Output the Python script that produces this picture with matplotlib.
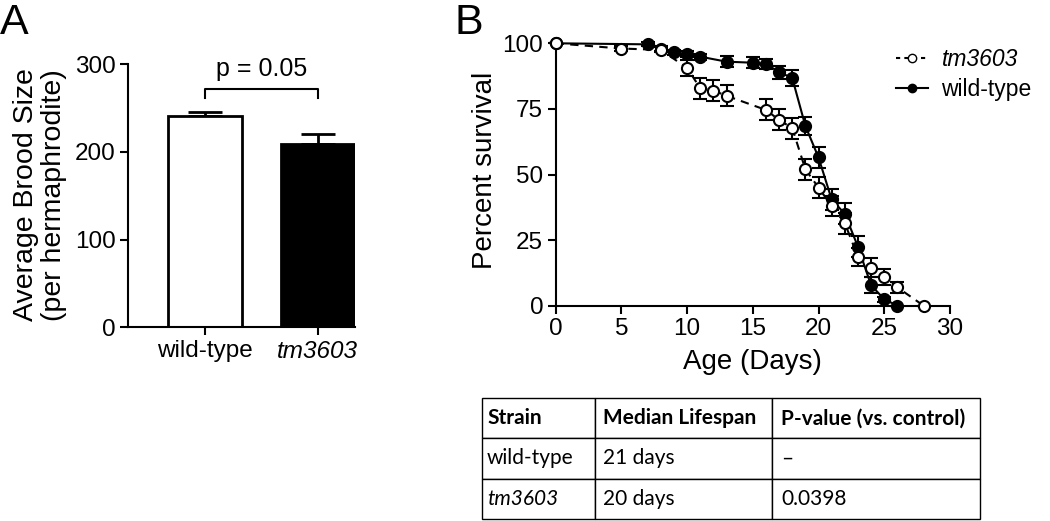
import matplotlib.pyplot as plt
from matplotlib.lines import Line2D

plt.rcParams['font.family'] = ['Liberation Sans', 'DejaVu Sans']

# Panel A: brood size
strains = ['wild-type', 'tm3603']
brood_mean = [241, 209]
brood_sem = [5, 11]

# Panel B: survival curves
tm_days = [0, 5, 8, 10, 11, 12, 13, 16, 17, 18, 19, 20, 21, 22, 23, 24, 25, 26, 28]
tm_surv = [100, 98, 97.5, 90.6, 82.9, 82, 80, 74.6, 70.8, 67.7, 52, 45, 38, 31.5, 18.6, 14.5, 11, 7, 0]
tm_err = [0, 1, 1, 3, 4, 4, 4, 4, 4, 4, 4, 4, 4, 4, 3.5, 3.5, 3, 2, 0]

wt_days = [0, 7, 8, 9, 10, 11, 13, 15, 16, 17, 18, 19, 20, 21, 22, 23, 24, 25, 26]
wt_surv = [100, 99.6, 98, 96.5, 95.8, 94.9, 93, 92.6, 92.2, 89, 86.8, 68.5, 56.5, 40.5, 35, 22.5, 7.8, 2.5, 0]
wt_err = [0, 0.8, 1, 1, 1.2, 1.2, 2, 2, 2, 2.5, 3, 3.5, 4, 4, 4, 4, 3, 1, 0]

# Table
table_cols = ['Strain', 'Median Lifespan', 'P-value (vs. control)']
table_rows = [['wild-type', '21 days', '\u2013'],
              ['tm3603', '20 days', '0.0398']]

fig = plt.figure(figsize=(10.5, 5.21), dpi=100)

# ---- Panel A ----
axA = fig.add_axes([0.1219, 0.3718, 0.2162, 0.5048])
axA.bar([0, 1], brood_mean, width=0.655, color=['white', 'black'],
        edgecolor='black', linewidth=2, zorder=2)
axA.errorbar([0, 1], brood_mean, yerr=[[0, 0], brood_sem], fmt='none',
             ecolor='black', elinewidth=2, capsize=12, capthick=2, zorder=1)
axA.set_xlim(-0.68, 1.33)
axA.set_ylim(0, 300)
axA.set_yticks([0, 100, 200, 300])
axA.set_xticks([0, 1])
axA.set_xticklabels(strains)
axA.get_xticklabels()[1].set_style('italic')
axA.set_ylabel('Average Brood Size\n(per hermaphrodite)', fontsize=20.5, linespacing=1.1)
axA.yaxis.set_label_coords(-0.27, 0.503)
for s in ['top', 'right']:
    axA.spines[s].set_visible(False)
for s in ['left', 'bottom']:
    axA.spines[s].set_linewidth(1.5)
axA.tick_params(width=1.5, length=6, labelsize=17.5, pad=3)
# significance bracket
axA.plot([0, 0, 1, 1], [262, 272, 272, 262], color='black', lw=1.5, clip_on=False)
axA.text(0.5, 281, 'p = 0.05', ha='center', va='bottom', fontsize=18)
fig.text(0.0, 0.995, 'A', fontsize=31, va='top', ha='left')

# ---- Panel B ----
axB = fig.add_axes([0.5292, 0.4132, 0.3755, 0.5037])
axB.errorbar(tm_days, tm_surv, yerr=tm_err, fmt='o', ls=(0, (4, 3)), color='black',
             mfc='white', mec='black', ms=8, mew=1.5, lw=1.5, elinewidth=1.5,
             capsize=5, capthick=1.5, clip_on=False, zorder=3)
axB.errorbar(wt_days, wt_surv, yerr=wt_err, fmt='o', ls='-', color='black',
             mfc='black', mec='black', ms=8, mew=1.5, lw=1.5, elinewidth=1.5,
             capsize=5, capthick=1.5, clip_on=False, zorder=2)
axB.set_xlim(0, 30)
axB.set_ylim(0, 100)
axB.set_xticks([0, 5, 10, 15, 20, 25, 30])
axB.set_yticks([0, 25, 50, 75, 100])
axB.set_xlabel('Age (Days)', fontsize=20)
axB.set_ylabel('Percent survival', fontsize=20)
axB.xaxis.set_label_coords(0.499, -0.165)
axB.yaxis.set_label_coords(-0.146, 0.517)
for s in ['top', 'right']:
    axB.spines[s].set_visible(False)
for s in ['left', 'bottom']:
    axB.spines[s].set_linewidth(1.5)
axB.tick_params(width=1.5, length=6, labelsize=17.5, pad=3)

handles = [Line2D([], [], color='black', ls=(0, (2, 2)), marker='o', mfc='white', mec='black', ms=6, lw=1.5),
           Line2D([], [], color='black', ls='-', marker='o', mfc='black', mec='black', ms=6, lw=1.5)]
leg = fig.legend(handles, ['tm3603', 'wild-type'], loc='upper left',
                 bbox_to_anchor=(0.853, 0.908), frameon=False, fontsize=16.5,
                 handlelength=1.4, handletextpad=0.6, labelspacing=0.3, borderpad=0,
                 borderaxespad=0)
leg.get_texts()[0].set_style('italic')
fig.text(0.433, 0.995, 'B', fontsize=31, va='top', ha='left')

# ---- Table ----
axT = fig.add_axes([0.459, 0.004, 0.474, 0.232])
axT.axis('off')
tbl = axT.table(cellText=table_rows, colLabels=table_cols, cellLoc='left', colLoc='left',
                colWidths=[113, 177, 208], bbox=[0, 0, 1, 1])
tbl.auto_set_font_size(False)
for (r, c), cell in tbl.get_celld().items():
    cell.set_linewidth(1.0)
    cell.set_edgecolor('black')
    cell.PAD = 0.045
    txt = cell.get_text()
    txt.set_fontsize(15)
    txt.set_family(['Lato', 'DejaVu Sans'])
    if r == 0:
        txt.set_weight('bold')
    if r == 2 and c == 0:
        txt.set_style('italic')

fig.savefig('out.png', dpi=100)
